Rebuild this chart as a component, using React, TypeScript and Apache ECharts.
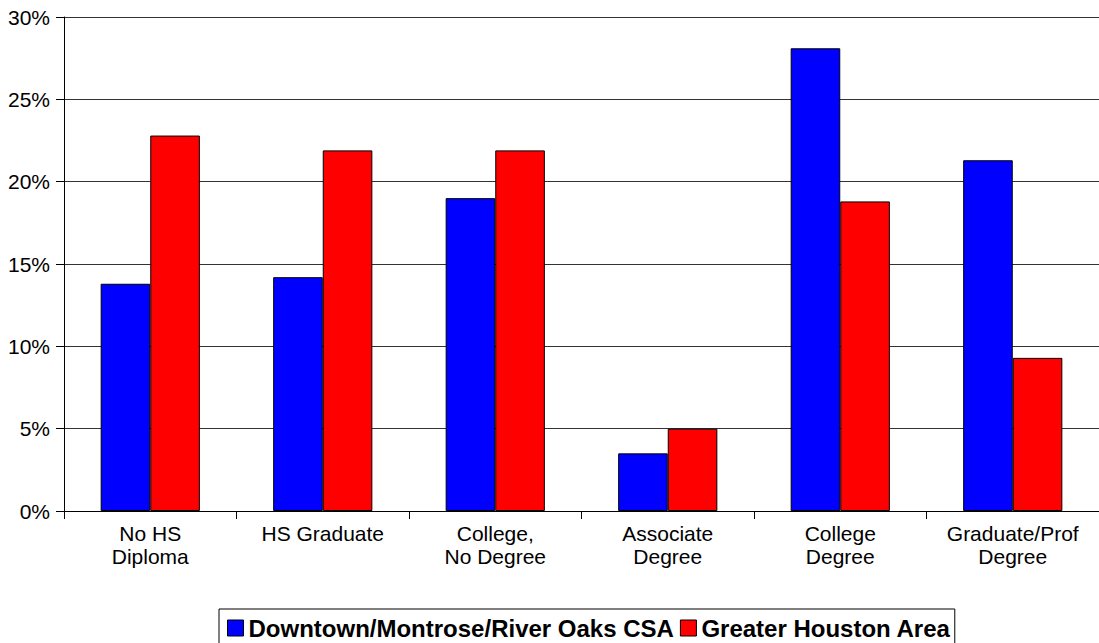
import React, { useEffect, useRef } from "react";
import * as echarts from "echarts";

const categories = [
  "No HS\nDiploma",
  "HS Graduate",
  "College,\nNo Degree",
  "Associate\nDegree",
  "College\nDegree",
  "Graduate/Prof\nDegree",
];
const downtownValues = [13.8, 14.2, 19.0, 3.5, 28.1, 21.3];
const houstonValues = [22.8, 21.9, 21.9, 5.0, 18.8, 9.3];
const seriesNames = ["Downtown/Montrose/River Oaks CSA", "Greater Houston Area"];

export default function App() {
  const ref = useRef<HTMLDivElement>(null);
  useEffect(() => {
    const chart = echarts.init(ref.current!, null, { renderer: "svg" });
    const font = "Arial, 'Liberation Sans', sans-serif";
    chart.setOption({
      animation: false,
      backgroundColor: "#fff",
      grid: { left: 64, top: 17, width: 1043, height: 494 },
      legend: {
        left: 219,
        top: 609,
        itemGap: 6,
        itemWidth: 16,
        itemHeight: 16,
        padding: [7, 4, 5, 8],
        borderColor: "#000",
        borderWidth: 1,
        icon: "rect",
        itemStyle: { borderColor: "#000", borderWidth: 1 },
        textStyle: { fontFamily: font, fontSize: 24, fontWeight: "bold", color: "#000" },
        data: seriesNames,
      },
      xAxis: {
        type: "category",
        data: categories,
        axisLine: { lineStyle: { color: "#000", width: 1 } },
        axisTick: { show: true, length: 8, lineStyle: { color: "#000" } },
        axisLabel: { fontFamily: font, fontSize: 21, color: "#000", lineHeight: 23, margin: 11 },
      },
      yAxis: {
        type: "value",
        min: 0,
        max: 30,
        interval: 5,
        axisLine: { show: true, lineStyle: { color: "#000", width: 1 } },
        axisTick: { show: true, length: 8, lineStyle: { color: "#000" } },
        axisLabel: { fontFamily: font, fontSize: 21, color: "#000", margin: 14, formatter: "{value}%" },
        splitLine: { lineStyle: { color: "#333", width: 1 } },
      },
      series: [
        {
          name: seriesNames[0],
          type: "bar",
          data: downtownValues,
          barGap: "0%",
          barCategoryGap: "42.5%",
          itemStyle: { color: "#0000ff", borderColor: "#000", borderWidth: 1 },
        },
        {
          name: seriesNames[1],
          type: "bar",
          data: houstonValues,
          itemStyle: { color: "#ff0000", borderColor: "#000", borderWidth: 1 },
        },
      ],
    });
    return () => chart.dispose();
  }, []);
  return (
    <div
      ref={ref}
      style={{ position: "fixed", left: 0, top: 0, width: 1099, height: 643, background: "#fff" }}
    />
  );
}
